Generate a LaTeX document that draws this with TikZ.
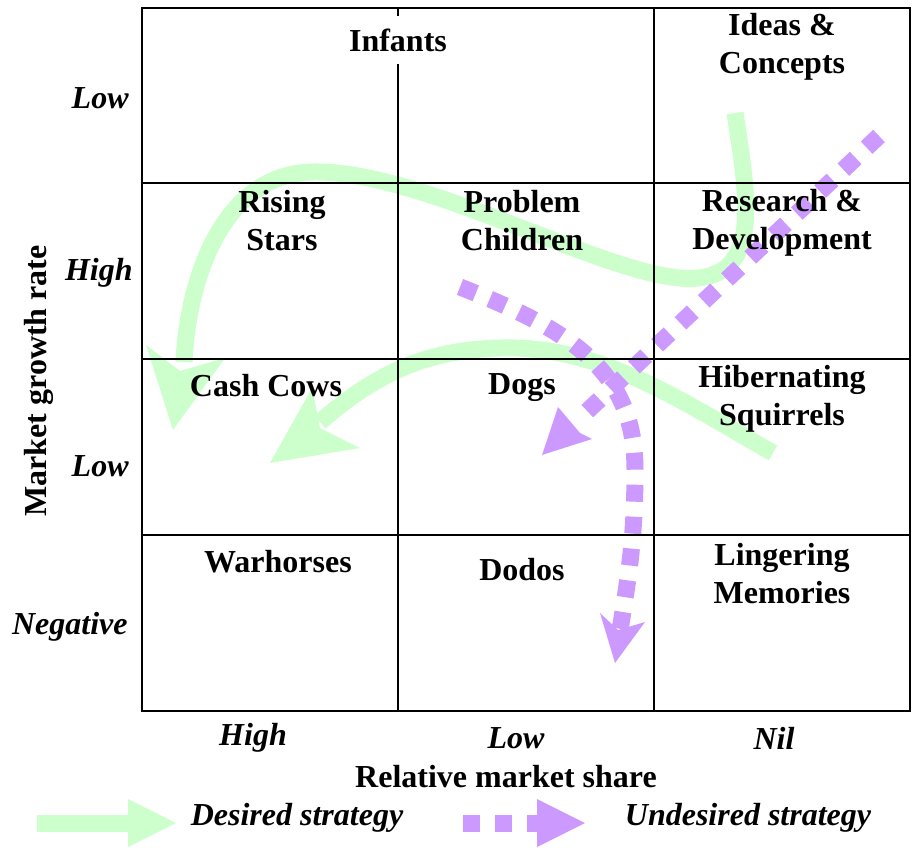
\documentclass[tikz,border=0pt]{standalone}
\usepackage{fontspec}
\setmainfont{Liberation Serif}
\definecolor{desgreen}{HTML}{CCFFCC}
\definecolor{undpurple}{HTML}{CC99FF}
\begin{document}
\begin{tikzpicture}[x=0.5pt,y=-0.5pt,
  cell/.style={font=\fontsize{16}{19}\selectfont\bfseries, align=center, inner sep=0pt},
  axislbl/.style={font=\fontsize{16}{19}\selectfont\bfseries\itshape, inner sep=0pt},
  axistitle/.style={font=\fontsize{16}{19}\selectfont\bfseries, inner sep=0pt},
  gridline/.style={line width=1pt, black},
  desired/.style={draw=desgreen, line width=8.5pt},
  desiredhead/.style={fill=desgreen},
  undesired/.style={draw=undpurple, line width=8.5pt, dash pattern=on 8.5pt off 7.5pt},
  undesiredhead/.style={fill=undpurple}]
\useasboundingbox (0,0) rectangle (913,855);

% desired strategy arrows (green)
\draw[desired] (735,113) .. controls (748,200) and (765,285) .. (680,278)
  .. controls (595,271) and (420,170) .. (313,172)
  .. controls (225,173) and (188,275) .. (184,362);
\fill[desiredhead] (146,345) -- (180,371) -- (225,358) -- (173,430) -- cycle;
\draw[desired] (773,453) .. controls (680,400) and (600,345) .. (500,348)
  .. controls (430,350) and (380,370) .. (320,422);
\fill[desiredhead] (312,388) -- (320,428) -- (360,448) -- (270,463) -- cycle;

% undesired strategy arrows (purple)
\draw[undesired] (879,136) -- (580,418);
\fill[undesiredhead] (558,407) -- (580,433) -- (592,439) -- (542,455) -- cycle;
\draw[undesired] (460,287) .. controls (570,330) and (635,370) .. (635,470)
  .. controls (635,540) and (628,580) .. (620,630);
\fill[undesiredhead] (600,613) -- (618,630) -- (645,622) -- (615,663) -- cycle;

% grid
\draw[gridline] (142,8) rectangle (910,711);
\draw[gridline] (142,183) -- (910,183);
\draw[gridline] (142,359) -- (910,359);
\draw[gridline] (142,535) -- (910,535);
\draw[gridline] (398,8) -- (398,711);
\draw[gridline] (654,8) -- (654,711);

% cell labels
\node[cell, fill=white, inner xsep=3pt, minimum height=24pt] (infants) at (398,40) {Infants};
\node[cell] (ideas) at (782,47) {Ideas \&\\Concepts};
\node[cell] (rising) at (282,221) {Rising\\Stars};
\node[cell] (problem) at (522,221) {Problem\\Children};
\node[cell] (research) at (782,223) {Research \&\\Development};
\node[cell] (cash) at (266,386) {Cash Cows};
\node[cell] (dogs) at (522,388) {Dogs};
\node[cell] (hibernating) at (782,399) {Hibernating\\Squirrels};
\node[cell] (warhorses) at (278,562) {Warhorses};
\node[cell] (dodos) at (522,570) {Dodos};
\node[cell] (lingering) at (782,574) {Lingering\\Memories};

% axis labels
\node[axislbl, anchor=east] (rlow1) at (129,98) {Low};
\node[axislbl, anchor=east] (rhigh) at (133,273) {High};
\node[axislbl, anchor=east] (rlow2) at (129,466) {Low};
\node[axislbl, anchor=east] (rneg) at (128,627) {Negative};
\node[axislbl] (chigh) at (253,738) {High};
\node[axislbl] (clow) at (516,738) {Low};
\node[axislbl] (cnil) at (774,738) {Nil};
\node[axistitle] (xtitle) at (506,777) {Relative market share};
\node[axistitle, rotate=90] (ytitle) at (39,381) {Market growth rate};

% legend
\draw[desired] (37,823) -- (130,823);
\fill[desiredhead] (128,799) -- (176,823) -- (128,847) -- cycle;
\node[axislbl] (ldes) at (297,818) {Desired strategy};
\draw[undesired] (463,823) -- (540,823);
\fill[undesiredhead] (537,799) -- (585,823) -- (537,847) -- cycle;
\node[axislbl] (lund) at (748,818) {Undesired strategy};
\end{tikzpicture}
\end{document}
